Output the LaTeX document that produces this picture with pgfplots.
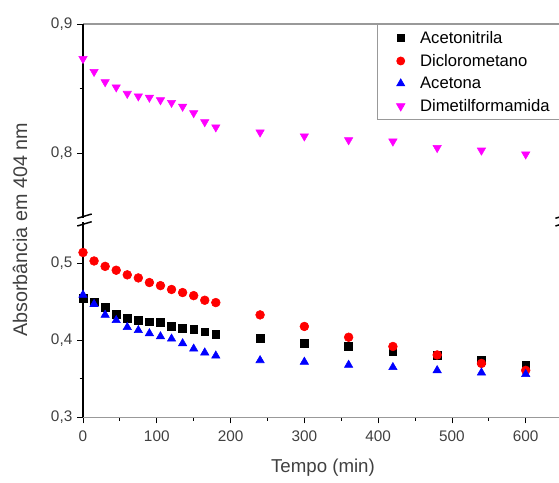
\documentclass[border=0pt]{standalone}
\usepackage{fontspec}
\setmainfont{Liberation Sans}
\usepackage{pgfplots}
\usepackage{pgfplotstable}
\pgfplotsset{compat=1.18}

\definecolor{ticktext}{HTML}{404040}
\definecolor{framegray}{HTML}{999999}
\definecolor{dmfmag}{HTML}{FF00FF}

% tempo (min) vs absorbancia
\pgfplotstableread{
t   acn    dcm    acet   dmf
0   0.455  0.514  0.459  0.873
15  0.450  0.503  0.447  0.863
30  0.443  0.496  0.433  0.855
45  0.434  0.491  0.426  0.851
60  0.429  0.485  0.417  0.846
75  0.426  0.481  0.413  0.844
90  0.424  0.475  0.409  0.843
105 0.423  0.471  0.405  0.841
120 0.418  0.466  0.402  0.839
135 0.416  0.462  0.396  0.836
150 0.414  0.458  0.389  0.831
165 0.411  0.452  0.384  0.824
180 0.408  0.449  0.380  0.820
240 0.403  0.433  0.374  0.816
300 0.396  0.418  0.372  0.813
360 0.392  0.404  0.368  0.810
420 0.385  0.392  0.365  0.809
480 0.381  0.381  0.361  0.804
540 0.374  0.370  0.358  0.802
600 0.368  0.361  0.356  0.799
}\absdata

\pgfplotsset{
  brk/.style={
    scale only axis,
    width=359.7pt,
    xmin=0, xmax=650,
    axis y line*=left,
    y axis line style={-, black, line width=1.2pt},
    x axis line style={-, framegray, line width=0.8pt},
    tick style={black, line width=0.6pt},
    major tick length=4.5pt,
    minor tick length=2.5pt,
    ticklabel style={font=\fontsize{11.5}{13}\selectfont, text=ticktext},
    /pgf/number format/assume math mode=true,
    yticklabel style={/pgf/number format/.cd, fixed, fixed zerofill, precision=1, use comma},
  },
}

\begin{document}
\begin{tikzpicture}[x=0.75pt, y=0.75pt]
\useasboundingbox (0,0) rectangle (559,482);

% parte inferior
\begin{axis}[brk,
  at={(62.25pt,48.5pt)}, anchor=south west,
  height=146.5pt,
  ymin=0.3, ymax=0.5536,
  axis x line*=bottom,
  xtick={0,100,...,600},
  minor xtick={50,150,...,550},
  ytick={0.3,0.4,0.5},
  minor ytick={0.35,0.45},
  ytick align=outside,
  xtick align=outside,
  xticklabel style={yshift=-2pt},
]
\addplot[only marks, mark=square*, mark size=2.9pt, black] table[x=t, y=acn] {\absdata};
\addplot[only marks, mark=*, mark size=3.3pt, red] table[x=t, y=dcm] {\absdata};
\addplot[only marks, mark=triangle*, mark size=3.6pt, blue] table[x=t, y=acet] {\absdata};
\end{axis}

% parte superior
\begin{axis}[brk,
  at={(62.25pt,198pt)}, anchor=south west,
  height=145.5pt,
  ymin=0.7496, ymax=0.9,
  axis x line*=top,
  xtick=\empty,
  ytick={0.8,0.9},
  minor ytick={0.85},
  ytick align=outside,
  legend style={at={(0.613,1)}, anchor=north west, draw=framegray, line width=0.6pt,
    font=\fontsize{12.5}{14}\selectfont, row sep=2.6pt, inner xsep=4pt, inner ysep=3pt},
  legend cell align=left,
  legend image code/.code={\path[draw=none, fill=none] (0pt,0pt) -- (26pt,0pt); \draw[#1, only marks] plot coordinates {(13.5pt,0pt)};},
]
\addlegendimage{only marks, mark=square*, mark size=2.6pt, black}
\addlegendentry{Acetonitrila}
\addlegendimage{only marks, mark=*, mark size=3pt, red}
\addlegendentry{Diclorometano}
\addlegendimage{only marks, mark=triangle*, mark size=3.4pt, blue}
\addlegendentry{Acetona}
\addplot[only marks, mark=triangle*, mark size=3.6pt, dmfmag, mark options={rotate=180}] table[x=t, y=dmf] {\absdata};
\addlegendentry{\makebox[112pt][l]{Dimetilformamida}}
\end{axis}

% quebra do eixo
\fill[white] (78,260.2) rectangle (90,263.8);
\draw[black, line width=1.1pt] (77.3,263.7) -- (91.7,268);
\draw[black, line width=1.1pt] (77.3,256) -- (91.7,260.3);
\draw[black, line width=1.1pt] (555.4,263.7) -- (569.8,268);
\draw[black, line width=1.1pt] (555.4,256) -- (569.8,260.3);

\node[rotate=90, font=\fontsize{14.8}{16}\selectfont, text=ticktext] at (20,252) {Absorbância em 404 nm};
\node[font=\fontsize{14}{16}\selectfont, text=ticktext] at (323,14) {Tempo (min)};
\end{tikzpicture}
\end{document}
